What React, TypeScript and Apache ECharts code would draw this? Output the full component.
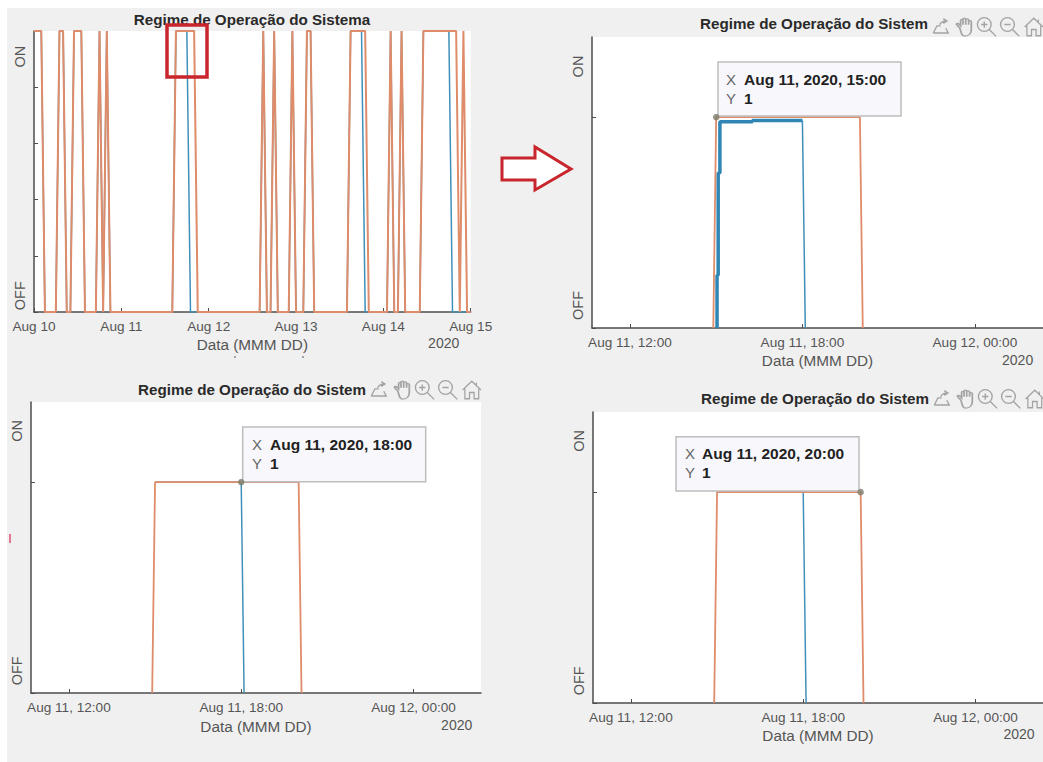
import React, { useEffect, useRef } from "react";
import * as echarts from "echarts";

// All x values are hours counted from Aug 10 2020, 00:00
const overviewOrangeHours = [0, 2, 3, 6, 7, 8, 9, 10, 11, 13, 14, 17, 18, 19, 20, 21, 38, 39, 44, 45, 62, 63, 64, 65, 66, 67, 70, 71, 72, 74, 75, 76, 77, 86, 87, 91, 92, 97, 98, 99, 100, 101, 102, 106, 107, 116, 117, 118, 119, 120];
const overviewOrangeValues = [1, 1, 0, 0, 1, 1, 0, 0, 1, 1, 0, 0, 1, 0, 1, 0, 0, 1, 1, 0, 0, 1, 0, 0, 1, 0, 0, 1, 0, 0, 1, 1, 0, 0, 1, 1, 0, 0, 1, 0, 0, 1, 0, 0, 1, 1, 0, 1, 0, 0];
const overviewBlueHours = [0, 2, 3, 6, 7, 8, 9, 10, 11, 13, 14, 17, 18, 19, 20, 21, 38, 39, 42, 43, 62, 63, 64, 65, 66, 67, 70, 71, 72, 74, 75, 76, 77, 86, 87, 90, 91, 97, 98, 99, 100, 101, 102, 106, 107, 114, 115, 120];
const overviewBlueValues = [1, 1, 0, 0, 1, 1, 0, 0, 1, 1, 0, 0, 1, 0, 1, 0, 0, 1, 1, 0, 0, 1, 0, 0, 1, 0, 0, 1, 0, 0, 1, 1, 0, 0, 1, 1, 0, 0, 1, 0, 0, 1, 0, 0, 1, 1, 0, 0];

// Zoomed views: the pulse of Aug 11
const zoomOrangeHours = [38.9, 39, 44, 44.1];
const zoomOrangeValues = [0, 1, 1, 0];
const zoomBlueHours = [39.0, 42, 42.1];
const zoomBlueValues = [1, 1, 0];
const boldBlueHours = [39.03, 39.03, 39.07, 39.07, 39.13, 39.13, 40.26, 40.26, 42];
const boldBlueValues = [0, 0.25, 0.25, 0.735, 0.735, 0.978, 0.978, 0.984, 0.984];
const thinBlueHours = [42, 42.1];
const thinBlueValues = [0.984, 0];

const overviewTickHours = [0, 24, 48, 72, 96, 120];
const overviewTickLabels = ["Aug 10", "Aug 11", "Aug 12", "Aug 13", "Aug 14", "Aug 15"];
const zoomTickHours = [36, 42, 48];
const zoomTickLabels = ["Aug 11, 12:00", "Aug 11, 18:00", "Aug 12, 00:00"];
const overviewYTicks = [0, 0.2, 0.4, 0.6, 0.8, 1];
const zoomYTicks = [0, 1];
const yLabels = ["OFF", "ON"];

const TITLE_FULL = "Regime de Operação do Sistema";
const TITLE_CUT = "Regime de Operação do Sistem";
const X_NAME = "Data (MMM DD)";
const YEAR = "2020";

const FONT = "'Liberation Sans', Arial, sans-serif";
const ORANGE = "#de8c6a";
const BLUE = "#3f90b8";
const AXIS = "#4d4d4d";
const RED = "#c9252c";

const zip = (xs: number[], ys: number[]) => xs.map((h, i) => [h, ys[i]]);

const iconPaths: Record<string, string> = {
  icExport: "M-7 5 L-4 -1 L-1 -1 M-7 5 L5 5 L3 1 M-2 -2 C0 -5 2 -5 3 -5 M1 -7 L4 -5 L1 -3",
  icHand: "M-4 1 L-6 -2 C-6.5 -3.5 -5 -3.5 -4.5 -2.5 L-3.5 -1 L-3.5 -5.5 C-3.5 -7 -2 -7 -2 -5.5 L-2 -2 L-2 -6.5 C-2 -8 -0.3 -8 -0.3 -6.5 L-0.3 -2 L-0.3 -6 C-0.3 -7.5 1.5 -7.5 1.5 -6 L1.5 -2 L1.5 -4.5 C1.5 -6 3.2 -6 3.2 -4.5 L3.2 2 C3.2 5 2 8 -1 8 C-3 8 -3 5 -4 1 Z",
  icPlus: "M3 -2 A5.5 5.5 0 1 1 -8 -2 A5.5 5.5 0 1 1 3 -2 M1.5 2 L7 7.5 M-5 -2 L0 -2 M-2.5 -4.5 L-2.5 0.5",
  icMinus: "M3 -2 A5.5 5.5 0 1 1 -8 -2 A5.5 5.5 0 1 1 3 -2 M1.5 2 L7 7.5 M-5 -2 L0 -2",
  icHome: "M-8 0 L0 -7 L8 0 M-6 -1 L-6 7 L-2 7 L-2 2 L2 2 L2 7 L6 7 L6 -1 M4 -6 L4 -3",
};
const iconScale: Record<string, number[]> = {
  icExport: [1.25, 1.2, 1],
  icHand: [1.6, 1.15, 2],
  icPlus: [1.25, 1.25, 0],
  icMinus: [1.25, 1.25, 0],
  icHome: [1.15, 1.25, 0],
};
Object.entries(iconPaths).forEach(([k, d]) =>
  echarts.graphic.registerShape(k, echarts.graphic.extendPath(d, {}))
);

const text = (x: number, y: number, t: string, o: any = {}) => ({
  type: "text",
  x,
  y,
  z: 50,
  style: {
    text: t,
    fontFamily: FONT,
    fontSize: 14,
    fill: "#555",
    align: "center",
    verticalAlign: "middle",
    ...o,
  },
});

const toolbar = (x0: number, y: number) =>
  Object.keys(iconPaths).map((k, i) => ({
    type: k,
    x: x0 + i * 23.2 + iconScale[k][2],
    y,
    scaleX: iconScale[k][0],
    scaleY: iconScale[k][1],
    z: 50,
    style: { fill: "none", stroke: "#a3a3a3", lineWidth: 1.1 },
  }));

const dataTip = (r: number[], xc: number, xd: number, y1: number, y2: number, when: string) => [
  { type: "rect", z: 40, shape: { x: r[0], y: r[1], width: r[2], height: r[3] }, style: { fill: "#f8f8fc", stroke: "#bdbdbd", lineWidth: 1.5 } },
  text(xc, y1, "X", { fontSize: 15, fill: "#666" }),
  text(xd, y1, when, { fontSize: 15.5, fontWeight: "bold", fill: "#222", align: "left" }),
  text(xc, y2, "Y", { fontSize: 15, fill: "#666" }),
  text(xd, y2, "1", { fontSize: 15.5, fontWeight: "bold", fill: "#222", align: "left" }),
];

const panels = [
  { left: 34, top: 31, width: 436.7, height: 281, min: 0, max: 120, ticks: overviewTickHours, labels: overviewTickLabels, yTicks: overviewYTicks, yMax: 1, yPos: [0.058, 0.909], gap: 26 },
  { left: 592, top: 37, width: 451, height: 291, min: 34.68, max: 50.37, ticks: zoomTickHours, labels: zoomTickLabels, yTicks: zoomYTicks, yMax: 1.38, yPos: [0.107, 1.24], gap: 26 },
  { left: 31, top: 402, width: 450, height: 291, min: 34.68, max: 50.35, ticks: zoomTickHours, labels: zoomTickLabels, yTicks: zoomYTicks, yMax: 1.38, yPos: [0.105, 1.243], gap: 27 },
  { left: 593, top: 412, width: 450, height: 291, min: 34.68, max: 50.35, ticks: zoomTickHours, labels: zoomTickLabels, yTicks: zoomYTicks, yMax: 1.38, yPos: [0.105, 1.243], gap: 26 },
];

const line = (i: number, name: string, data: number[][], color: string, width = 1.5) => ({
  type: "line",
  name,
  xAxisIndex: i,
  yAxisIndex: i,
  data,
  showSymbol: false,
  color,
  lineStyle: { color, width },
  silent: true,
});
const marker = (i: number, h: number) => ({
  type: "scatter",
  xAxisIndex: i,
  yAxisIndex: i,
  data: [[h, 1]],
  symbolSize: 6.5,
  itemStyle: { color: "#7d7d6c" },
  z: 60,
  clip: false,
  silent: true,
});

export default function App() {
  const ref = useRef<HTMLDivElement>(null);
  useEffect(() => {
    const chart = echarts.init(ref.current!, undefined, { renderer: "svg" });
    chart.setOption({
      animation: false,
      backgroundColor: "transparent",
      title: [
        { t: TITLE_FULL, x: 252, y: 19 },
        { t: TITLE_CUT, x: 814, y: 23.5 },
        { t: TITLE_CUT, x: 252, y: 389 },
        { t: TITLE_CUT, x: 815, y: 398 },
      ].map((o) => ({
        text: o.t,
        left: o.x,
        top: o.y - 8,
        padding: 0,
        textAlign: "center",
        textStyle: { fontFamily: FONT, fontSize: 15.2, fontWeight: "bold", color: "#2a2a2a", lineHeight: 16 },
      })),
      grid: panels.map((p) => ({
        left: p.left,
        top: p.top,
        width: p.width,
        height: p.height,
        show: true,
        backgroundColor: "#fff",
        borderWidth: 0,
      })),
      xAxis: panels.map((p, i) => ({
        type: "value",
        gridIndex: i,
        min: p.min,
        max: p.max,
        name: X_NAME,
        nameLocation: "middle",
        nameGap: p.gap - 1,
        nameTextStyle: { fontFamily: FONT, fontSize: 15.3, color: "#555" },
        splitLine: { show: false },
        axisLine: { show: true, lineStyle: { color: AXIS, width: 1.5 } },
        axisTick: { show: true, inside: true, length: 4, customValues: p.ticks, lineStyle: { color: AXIS } },
        axisLabel: {
          show: true,
          customValues: p.ticks,
          margin: 7,
          fontFamily: FONT,
          fontSize: 13.6,
          color: "#555",
          hideOverlap: false,
          showMinLabel: true,
          showMaxLabel: true,
          formatter: (v: number) => p.labels[p.ticks.indexOf(v)] ?? "",
        },
      })),
      yAxis: panels.map((p, i) => ({
        type: "value",
        gridIndex: i,
        min: 0,
        max: p.yMax,
        splitLine: { show: false },
        axisLine: { show: true, lineStyle: { color: AXIS, width: 1.5 } },
        axisTick: { show: true, inside: true, length: 4, customValues: p.yTicks, lineStyle: { color: AXIS } },
        axisLabel: {
          show: true,
          customValues: p.yPos,
          rotate: 90,
          align: "center",
          verticalAlign: "middle",
          margin: 14,
          fontFamily: FONT,
          fontSize: 14.5,
          color: "#555",
          formatter: (v: number) => yLabels[p.yPos.indexOf(v)] ?? "",
        },
      })),
      series: [
        line(0, "Sistema A", zip(overviewBlueHours, overviewBlueValues), BLUE, 1.5),
        line(0, "Sistema B", zip(overviewOrangeHours, overviewOrangeValues), ORANGE, 2),
        line(1, "Sistema A", zip(boldBlueHours, boldBlueValues), "#2f86b4", 3.5),
        line(1, "Sistema A", zip(thinBlueHours, thinBlueValues), BLUE),
        line(1, "Sistema B", zip(zoomOrangeHours, zoomOrangeValues), ORANGE, 1.8),
        marker(1, 39),
        line(2, "Sistema A", zip(zoomBlueHours, zoomBlueValues), BLUE),
        line(2, "Sistema B", zip(zoomOrangeHours, zoomOrangeValues), ORANGE, 1.8),
        marker(2, 42),
        line(3, "Sistema A", zip(zoomBlueHours, zoomBlueValues), BLUE),
        line(3, "Sistema B", zip(zoomOrangeHours, zoomOrangeValues), ORANGE, 1.8),
        marker(3, 44),
      ],
      graphic: {
        elements: [
          text(443.7, 343, YEAR),
          text(1017.6, 360, YEAR),
          text(456.7, 725, YEAR),
          text(1019, 734, YEAR),
          ...toolbar(941, 27),
          ...toolbar(379, 390),
          ...toolbar(942, 399),
          ...dataTip([718, 62, 183, 54], 731, 744, 79, 98, "Aug 11, 2020, 15:00"),
          ...dataTip([242.7, 427, 183, 54.7], 257, 270, 444, 463, "Aug 11, 2020, 18:00"),
          ...dataTip([676, 436.7, 183, 54.3], 690, 702, 453, 472, "Aug 11, 2020, 20:00"),
          { type: "rect", z: 100, shape: { x: 167, y: 25, width: 40, height: 52 }, style: { fill: "none", stroke: RED, lineWidth: 3.5 } },
          {
            type: "polygon",
            z: 100,
            shape: { points: [[502, 158], [535, 158], [535, 147], [571, 169], [535, 190], [535, 180], [502, 180]] },
            style: { fill: "#fff", stroke: RED, lineWidth: 3 },
          },
          { type: "line", z: 100, shape: { x1: 10, y1: 534, x2: 10, y2: 543 }, style: { stroke: "#e0506e", lineWidth: 1.5 } },
          { type: "line", z: 100, shape: { x1: 235, y1: 356, x2: 235, y2: 358 }, style: { stroke: "#555", lineWidth: 1 } },
          { type: "line", z: 100, shape: { x1: 303, y1: 356, x2: 303, y2: 358 }, style: { stroke: "#555", lineWidth: 1 } },
        ],
      },
    });
    return () => chart.dispose();
  }, []);
  return (
    <div style={{ position: "absolute", left: 0, top: 0, width: 1043, height: 762, background: "#fff", overflow: "hidden" }}>
      <div style={{ position: "absolute", left: 7, top: 8, right: 0, bottom: 0, background: "#f0f0f0" }} />
      <div ref={ref} style={{ position: "absolute", left: 0, top: 0, width: 1043, height: 762 }} />
    </div>
  );
}
